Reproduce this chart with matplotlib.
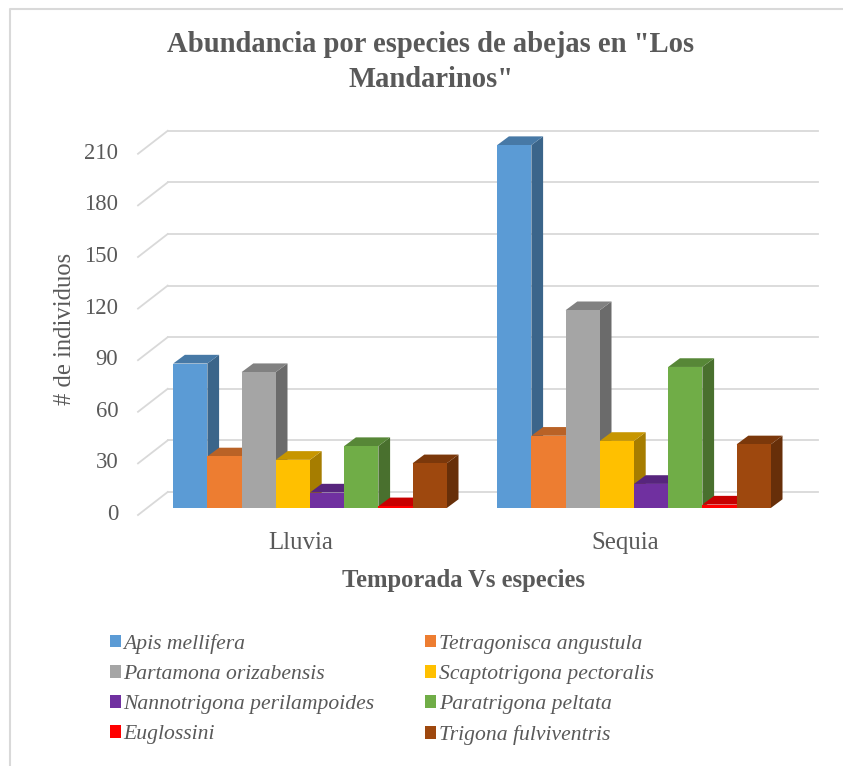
import numpy as np
import matplotlib
matplotlib.use('Agg')
import matplotlib.pyplot as plt
from matplotlib.patches import Patch, Polygon
from matplotlib.lines import Line2D
from matplotlib.colors import to_rgb
from matplotlib.transforms import ScaledTranslation

plt.rcParams['font.family'] = ['Liberation Serif', 'DejaVu Sans']

seasons = ['Lluvia', 'Sequia']
species = ['Apis mellifera', 'Tetragonisca angustula', 'Partamona orizabensis',
           'Scaptotrigona pectoralis', 'Nannotrigona perilampoides',
           'Paratrigona peltata', 'Euglossini', 'Trigona fulviventris']
lluvia = [84, 30, 79, 28, 9, 36, 1, 26]
sequia = [211, 42, 115, 39, 14, 82, 2, 37]
colors = ['#5B9BD5', '#ED7D31', '#A5A5A5', '#FFC000',
          '#7030A0', '#70AD47', '#FF0000', '#9E480E']
yticks = [0, 30, 60, 90, 120, 150, 180, 210]

W, H = 843, 766
PX_GROUP = 324.0   # pixels between the two seasons
PX_UNIT = 1.72     # pixels per individual


def shade(color, k):
    return tuple(c * k for c in to_rgb(color))


fig = plt.figure(figsize=(W / 100, H / 100), dpi=100, facecolor='white')

# axes box, pixels measured from the top left corner
left, right, top, bottom = 138, 818, 120, 515
ax = fig.add_axes([left / W, 1 - bottom / H, (right - left) / W, (bottom - top) / H])
ax.set_xlim((left - 301) / PX_GROUP, (right - 301) / PX_GROUP)
ax.set_ylim((508 - bottom) / PX_UNIT, (508 - top) / PX_UNIT)
for s in ax.spines.values():
    s.set_visible(False)
ax.patch.set_alpha(0)

# back wall grid and the slanted lines on the side wall
grid_color = '#D9D9D9'
wall_dx = 29.7 / PX_GROUP
wall_lift = 16 / PX_UNIT
front_drop = -7 / PX_UNIT
x_wall = (left - 301) / PX_GROUP
for v in yticks:
    ax.plot([x_wall + wall_dx, (right - 301) / PX_GROUP], [v + wall_lift] * 2,
            color=grid_color, lw=1.3, zorder=1, clip_on=False)
    ax.plot([x_wall, x_wall + wall_dx], [v + front_drop, v + wall_lift],
            color=grid_color, lw=1.3, zorder=1, clip_on=False)

# 3D looking bars: side face, top face, then the front
bar_w = 34.2 / PX_GROUP
depth_x = 11.7 / PX_GROUP
depth_y = 8.7 / PX_UNIT
shift = 9 / PX_GROUP
z = 2
for g, values in enumerate([lluvia, sequia]):
    for i, v in enumerate(values):
        x0 = g + shift + (i - 4) * bar_w
        x1 = x0 + bar_w
        c = colors[i]
        side = [(x1, 0), (x1 + depth_x, depth_y), (x1 + depth_x, v + depth_y), (x1, v)]
        roof = [(x0, v), (x1, v), (x1 + depth_x, v + depth_y), (x0 + depth_x, v + depth_y)]
        ax.add_patch(Polygon(side, closed=True, fc=shade(c, 0.65), ec='none', zorder=z))
        ax.add_patch(Polygon(roof, closed=True, fc=shade(c, 0.78), ec='none', zorder=z + 1))
        ax.bar(x0, v, width=bar_w, align='edge', color=c, edgecolor='none', zorder=z + 2)
        z += 3

ax.set_yticks(yticks)
ax.set_xticks(range(len(seasons)), seasons)
ax.tick_params(axis='y', length=0, labelsize=16.3, labelcolor='#595959', pad=14.3)
ax.tick_params(axis='x', length=0, labelsize=17.9, labelcolor='#595959', pad=12.5)
# value labels sit a little below the bar floor level
for lab in ax.get_yticklabels():
    lab.set_transform(lab.get_transform() + ScaledTranslation(0, -4 / 100, fig.dpi_scale_trans))

ax.set_ylabel('# de individuos', fontsize=17.7, color='#595959', va='center')
ax.yaxis.set_label_coords((65 - left) / (right - left), (bottom - 329) / (bottom - top))
ax.set_xlabel('Temporada Vs especies', fontsize=17.75, fontweight='bold', color='#595959', va='center')
ax.xaxis.set_label_coords((463 - left) / (right - left), (bottom - 580) / (bottom - top))

fig.text(431 / W, 1 - 62 / H, 'Abundancia por especies de abejas en "Los\nMandarinos"',
         ha='center', va='center', fontsize=20.6, fontweight='bold', color='#595959',
         linespacing=1.42)

# row by row legend, matplotlib fills it column by column
order = [0, 2, 4, 6, 1, 3, 5, 7]
handles = [Patch(fc=colors[i], label=species[i]) for i in order]
fig.legend(handles=handles, ncol=2, frameon=False, loc='upper left',
           bbox_to_anchor=(110 / W, 1 - 634 / H),
           prop={'style': 'italic', 'size': 15.55}, labelcolor='#595959',
           handlelength=0.5, handleheight=0.5, handletextpad=0.12,
           labelspacing=0.515, columnspacing=2.36, borderpad=0, borderaxespad=0)

# frame of the chart area, cut off by the edges of the image
fig.add_artist(Line2D([10 / W, 10 / W, 1], [0, 1 - 9 / H, 1 - 9 / H],
                      color='#D9D9D9', lw=1.5, transform=fig.transFigure))

fig.savefig('out.png', dpi=100)
